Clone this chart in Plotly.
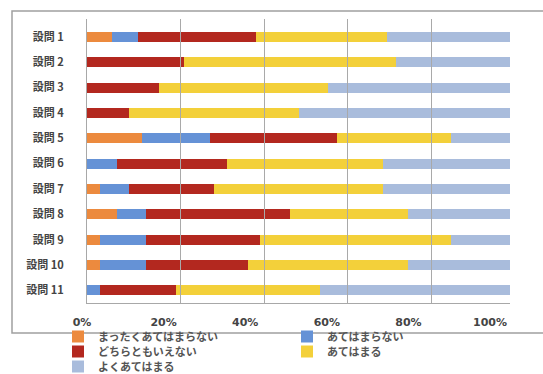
import plotly.graph_objects as go

W, H = 543, 374

questions = ["設問 1", "設問 2", "設問 3", "設問 4", "設問 5", "設問 6",
             "設問 7", "設問 8", "設問 9", "設問 10", "設問 11"]
series_names = ["まったくあてはまらない", "あてはまらない", "どちらともいえない",
                "あてはまる", "よくあてはまる"]
v_mattaku = [6, 0, 0, 0, 13, 0, 3, 7, 3, 3, 0]
v_atehamaranai = [6, 0, 0, 0, 16, 7, 7, 7, 11, 11, 3]
v_dochira = [28, 23, 17, 10, 30, 26, 20, 34, 27, 24, 18]
v_atehamaru = [31, 50, 40, 40, 27, 37, 40, 28, 45, 38, 34]
v_yoku = [29, 27, 43, 50, 14, 30, 30, 24, 14, 24, 45]
tick_vals = [0, 20, 40, 60, 80, 100]
tick_text = ["0%", "20%", "40%", "60%", "80%", "100%"]

colors = ["#EC8A3E", "#6592D6", "#B3281F", "#F3D03A", "#A9BCDC"]
values = [v_mattaku, v_atehamaranai, v_dochira, v_atehamaru, v_yoku]
legend_rows = ["legend", "legend", "legend2", "legend2", "legend3"]

def px_x(p):
    return p / W

def px_y(p):
    return 1 - p / H

fig = go.Figure()
for name, vals, col, lg in zip(series_names, values, colors, legend_rows):
    fig.add_trace(go.Bar(
        y=questions, x=vals, name=name, orientation="h",
        marker=dict(color=col, line=dict(width=0)),
        width=0.4, xaxis="x", yaxis="y", legend=lg,
        hoverinfo="x+y+name",
    ))

# invisible helper traces so the label / grid axes are drawn
fig.add_trace(go.Scatter(x=[0, 100], y=[questions[0], questions[0]], xaxis="x2", yaxis="y",
                         mode="markers", marker=dict(opacity=0), showlegend=False, hoverinfo="skip"))
fig.add_trace(go.Scatter(x=[0, 100], y=[questions[0], questions[0]], xaxis="x3", yaxis="y",
                         mode="markers", marker=dict(opacity=0), showlegend=False, hoverinfo="skip"))

font_main = "Noto Sans CJK JP"

def legend_at(top_px):
    return dict(orientation="h", x=px_x(58), y=px_y(top_px), yanchor="top", xanchor="left",
                entrywidth=184, entrywidthmode="pixels", traceorder="normal",
                font=dict(family=font_main, size=11, color="#555", weight="bold"),
                itemwidth=30, bgcolor="rgba(0,0,0,0)", tracegroupgap=0)

fig.update_layout(
    width=W, height=H,
    margin=dict(l=0, r=0, t=0, b=0, autoexpand=False),
    paper_bgcolor="white", plot_bgcolor="rgba(0,0,0,0)",
    barmode="stack",
    font=dict(family=font_main, size=11, color="#444"),
    xaxis=dict(domain=[px_x(87), px_x(510)], range=[0, 100], showgrid=False,
               showticklabels=False, zeroline=False, showline=True,
               linecolor="#a8a8a8", linewidth=1, anchor="y"),
    xaxis2=dict(domain=[px_x(82), px_x(490)], range=[0, 100], showgrid=False,
                tickvals=tick_vals, ticktext=tick_text, zeroline=False,
                anchor="free", position=px_y(314),
                tickfont=dict(family="DejaVu Sans", size=11, color="#444", weight="bold"),
                showline=False, ticks=""),
    xaxis3=dict(domain=[px_x(97), px_x(515)], range=[0, 100], showgrid=True,
                gridcolor="#a9a9a9", gridwidth=1, tickvals=tick_vals,
                showticklabels=False, zeroline=False, anchor="y", showline=False,
                layer="below traces"),
    yaxis=dict(domain=[px_y(303), px_y(19)], autorange="reversed",
               showgrid=False, zeroline=False, showline=True, linecolor="#a8a8a8",
               ticklabelstandoff=20,
               tickfont=dict(family=font_main, size=11, color="#444", weight="bold")),
    legend=legend_at(322),
    legend2=legend_at(337),
    legend3=legend_at(352),
    shapes=[dict(type="rect", xref="paper", yref="paper",
                 x0=px_x(12), x1=px_x(548), y0=px_y(333), y1=px_y(11),
                 line=dict(color="#a0a0a0", width=1.5), layer="below")],
)

fig.write_html("out.html")
